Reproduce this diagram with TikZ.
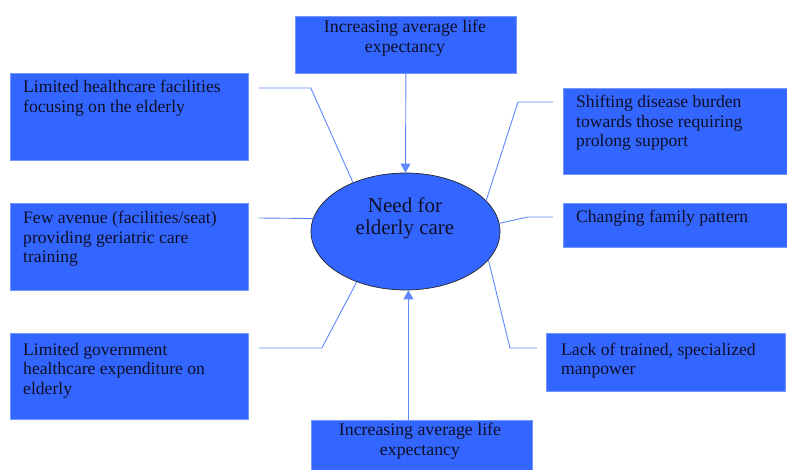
\documentclass[tikz,border=0pt]{standalone}
\usepackage{fontspec}
\setmainfont{Liberation Serif}
\usetikzlibrary{shapes.geometric,arrows.meta,calc}
\definecolor{boxblue}{RGB}{51,102,255}
\definecolor{boxedge}{RGB}{115,150,255}
\definecolor{linkblue}{RGB}{95,135,255}
\definecolor{txtcol}{RGB}{15,15,40}
\begin{document}
\begin{tikzpicture}[x=1pt,y=-1pt,
  box/.style={rectangle, draw=boxedge, fill=boxblue, line width=0.8pt, anchor=north west, inner sep=0pt},
  lbl/.style={anchor=base west, align=left, inner sep=0pt, text=txtcol, font=\fontsize{17.6}{19.5}\selectfont},
  clbl/.style={anchor=base, align=center, inner sep=0pt, text=txtcol, font=\fontsize{17.8}{20}\selectfont},
  link/.style={draw=linkblue, line width=0.9pt},
  arr/.style={link, -{Triangle[width=10pt,length=9pt]}}]
\useasboundingbox (0,0) rectangle (787,470);
% boxes
\node[box, minimum width=221, minimum height=57] (T) at (295,16) {};
\node[box, minimum width=238, minimum height=87] (L1) at (10,73) {};
\node[box, minimum width=238, minimum height=87] (L2) at (10,203) {};
\node[box, minimum width=238, minimum height=86] (L3) at (10,333) {};
\node[box, minimum width=226, minimum height=86] (R1) at (563,88) {};
\node[box, minimum width=226, minimum height=44] (R2) at (563,203) {};
\node[box, minimum width=239, minimum height=58] (R3) at (546,333) {};
\node[box, minimum width=221, minimum height=56] (B) at (311,420) {};
% ellipse
\node[ellipse, draw=black!85, line width=0.7pt, fill=boxblue, minimum width=189, minimum height=117, inner sep=0pt] (E) at (405.5,231.5) {};
% texts (anchored at the baseline of the last line)
\node[clbl] (Tt) at (405,53) {Increasing average life\\expectancy};
\node[lbl] (L1t) at (23,112.5) {Limited healthcare facilities\\focusing on the elderly};
\node[lbl] (L2t) at (23,263) {Few avenue (facilities/seat)\\providing geriatric care\\training};
\node[lbl] (L3t) at (23,394) {Limited government\\healthcare expenditure on\\elderly};
\node[lbl] (R1t) at (576,147) {Shifting disease burden\\towards those requiring\\prolong support};
\node[lbl] (R2t) at (576,223) {Changing family pattern};
\node[lbl] (R3t) at (561,374.5) {Lack of trained, specialized\\manpower};
\node[clbl] (Bt) at (420,455) {Increasing average life\\expectancy};
\node[anchor=base, align=center, inner sep=0pt, text=txtcol, font=\fontsize{21}{22}\selectfont] (Et) at (405,235) {Need for\\elderly care};
% connectors
\draw[link] ($(L1.north east)+(10,15)$) -- ++(52,0) -- (E.137.3);
\draw[link] ($(L2.north east)+(10,15)$) -- (E.172);
\draw[link] ($(L3.north east)+(10,15)$) -- ++(63,0) -- (E.226);
\draw[link] ($(R1.north west)+(-10,14)$) -- ++(-35,0) -- (E.21.4);
\draw[link] ($(R2.north west)+(-10,14)$) -- ++(-25,0) -- (E.5.7);
\draw[link] ($(R3.north west)+(-9,15)$) -- ++(-27,0) -- (E.341.4);
\draw[arr] (T.south) -- (E.north);
\draw[arr] ([xshift=-13.5pt]B.north) -- ([xshift=-13.5pt]B.north |- E.south);
\end{tikzpicture}
\end{document}
